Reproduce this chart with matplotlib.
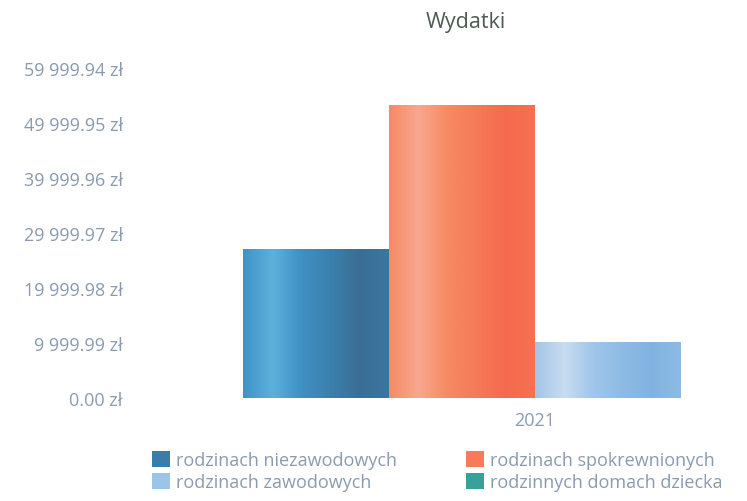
import numpy as np
from matplotlib import pyplot as plt
from matplotlib.colors import LinearSegmentedColormap
from matplotlib.patches import Patch

plt.rcParams['font.family'] = ['Open Sans', 'DejaVu Sans']

# data
title = 'Wydatki'
year = ['2021']
series = ['rodzinach niezawodowych', 'rodzinach spokrewnionych',
          'rodzinach zawodowych', 'rodzinnych domach dziecka']
values = [27100, 53300, 10200, 0]
yticks = [0, 9999.99, 19999.98, 29999.97, 39999.96, 49999.95, 59999.94]
ytick_labels = ['0.00 zł', '9 999.99 zł', '19 999.98 zł', '29 999.97 zł',
                '39 999.96 zł', '49 999.95 zł', '59 999.94 zł']

# stripy gradients, left -> right
grads = [
    ['#3f93c6', '#5eb0dc', '#3f90c3', '#3b80ad', '#3a6e94', '#3b76a0'],
    ['#f58a64', '#f8a890', '#f68a62', '#f67a58', '#f56a4e', '#f4724f'],
    ['#a4c5e6', '#c9dcf1', '#a0c6ea', '#8ebbe4', '#82b3e0', '#8dbbe3'],
    ['#3aa39c', '#5cbab3', '#36a099', '#31908a', '#2e8680', '#33928b'],
]
flat = ['#3a7dab', '#f77a5a', '#9cc4e8', '#3aa09a']

fig = plt.figure(figsize=(7.47, 5.02), dpi=100)
ax = fig.add_axes([0.2276, 0.205, 0.977, 0.6575])

nb = len(series)
w = 0.8 / nb
x0 = np.arange(len(year))
ramp = np.linspace(0, 1, 200).reshape(1, -1)
for i, (name, v) in enumerate(zip(series, values)):
    xc = x0 - 0.4 + w * (i + 0.5)
    bars = ax.bar(xc, [v], width=w, color=flat[i], label=name, zorder=2)
    cm = LinearSegmentedColormap.from_list('g%d' % i, grads[i])
    for b in bars:
        if b.get_height() <= 0:
            continue
        im = ax.imshow(ramp, cmap=cm, aspect='auto', zorder=3,
                       extent=(b.get_x(), b.get_x() + b.get_width(), 0, b.get_height()))
        im.set_clip_path(b)

ax.set_xlim(-0.5, 0.5)
ax.set_ylim(0, 59999.94)
ax.set_xticks(x0)
ax.set_xticklabels(year)
ax.set_yticks(yticks)
ax.set_yticklabels(ytick_labels)
ax.tick_params(axis='y', length=0, pad=34, labelsize=13, labelcolor='#8a9bae')
ax.tick_params(axis='x', length=0, pad=9, labelsize=13, labelcolor='#8a9bae')
for s in ax.spines.values():
    s.set_visible(False)

fig.text(0.624, 0.955, title, ha='center', va='center', fontsize=15.5, color='#4e5a52')

# legend, column order as in the picture
order = [0, 2, 1, 3]
handles = [Patch(facecolor=flat[k], label=series[k]) for k in order]
fig.legend(handles=handles, ncol=2, loc='upper left', bbox_to_anchor=(0.2035, 0.100),
           frameon=False, fontsize=13, labelcolor='#8a9bae',
           handlelength=1.0, handleheight=1.0, handletextpad=0.35,
           labelspacing=0.2, columnspacing=3.8, borderpad=0, borderaxespad=0)

fig.savefig('out.png', dpi=100)
